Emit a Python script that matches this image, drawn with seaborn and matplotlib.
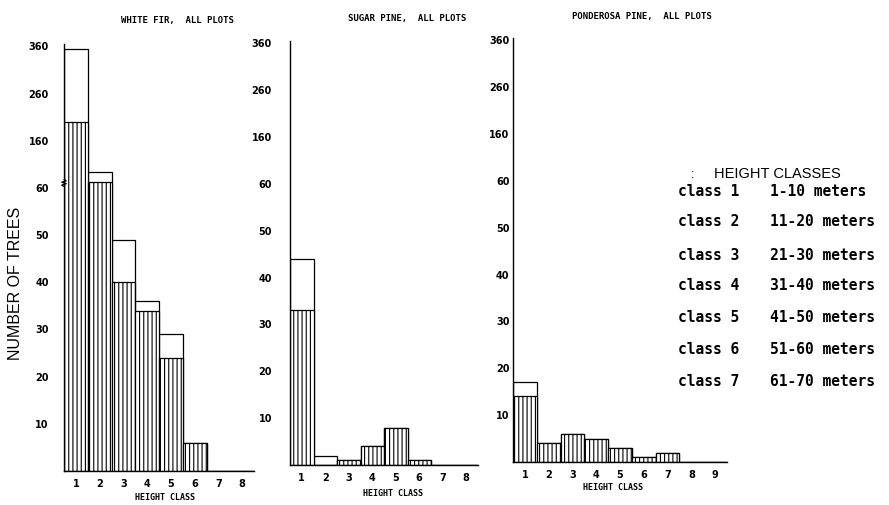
import numpy as np
import pandas as pd
import matplotlib
matplotlib.use("Agg")
import matplotlib.pyplot as plt
import seaborn as sns

# counts per height class: total bar and the hatched (lower) part
fir_classes = [1, 2, 3, 4, 5, 6, 7, 8]
fir_total = [355, 94, 49, 36, 29, 6, 0, 0]
fir_lower = [200, 72, 40, 34, 24, 6, 0, 0]

sugar_classes = [1, 2, 3, 4, 5, 6, 7, 8]
sugar_total = [44, 2, 1, 4, 8, 1, 0, 0]
sugar_lower = [33, 0, 1, 4, 8, 1, 0, 0]

pond_classes = [1, 2, 3, 4, 5, 6, 7, 8, 9]
pond_total = [17, 4, 6, 5, 3, 1, 2, 0, 0]
pond_lower = [14, 4, 6, 5, 3, 1, 2, 0, 0]

y_ticks = [10, 20, 30, 40, 50, 60, 160, 260, 360]

legend_classes = ["class 1", "class 2", "class 3", "class 4", "class 5", "class 6", "class 7"]
legend_ranges = ["1-10 meters", "11-20 meters", "21-30 meters", "31-40 meters",
                 "41-50 meters", "51-60 meters", "61-70 meters"]

sns.set_style("white")
plt.rcParams['font.family'] = ['DejaVu Sans']
plt.rcParams['hatch.linewidth'] = 0.8
plt.rcParams['text.color'] = 'black'
plt.rcParams['xtick.color'] = 'black'
plt.rcParams['ytick.color'] = 'black'

W, H = 889, 505
fig = plt.figure(figsize=(W / 100, H / 100), dpi=100)


def fwd(v):
    v = np.asarray(v, dtype=float)
    return np.where(v <= 60, v / 10.0, 6 + (v - 60) / 100.0)


def inv(u):
    u = np.asarray(u, dtype=float)
    return np.where(u <= 6, u * 10.0, 60 + (u - 6) * 100.0)


def px_rect(left, right, bottom, top):
    return [left / W, (H - bottom) / H, (right - left) / W, (bottom - top) / H]


def panel(rect, classes, total, lower, ypad):
    ax = fig.add_axes(rect)
    df = pd.DataFrame({'cls': [str(c) for c in classes], 'total': total, 'lower': lower})
    order = list(df['cls'])
    sns.barplot(data=df, x='cls', y='total', order=order, width=1, color='white',
                saturation=1, edgecolor='black', linewidth=0.9, ax=ax, errorbar=None)
    sns.barplot(data=df, x='cls', y='lower', order=order, width=1, color='white',
                saturation=1, edgecolor='black', linewidth=0.9, hatch='||||', ax=ax,
                errorbar=None)
    ax.set_yscale('function', functions=(fwd, inv))
    ax.set_ylim(0, 365)
    ax.set_xlim(-0.5, len(classes) - 0.5)
    ax.set_yticks(y_ticks)
    ax.set_yticklabels([str(t) for t in y_ticks])
    ax.yaxis.set_minor_locator(matplotlib.ticker.NullLocator())
    ax.set_xlabel('')
    ax.set_ylabel('')
    for s in ['top', 'right']:
        ax.spines[s].set_visible(False)
    for s in ['left', 'bottom']:
        ax.spines[s].set_linewidth(1.0)
        ax.spines[s].set_color('black')
    ax.tick_params(axis='both', length=0, labelsize=7)
    ax.tick_params(axis='x', pad=5.5)
    ax.tick_params(axis='y', pad=ypad)
    for lab in ax.get_xticklabels() + ax.get_yticklabels():
        lab.set_fontweight('bold')
    ax.patch.set_alpha(0)
    return ax


ax1 = panel(px_rect(64, 254, 471, 44), fir_classes, fir_total, fir_lower, 11)
ax2 = panel(px_rect(290, 478, 465, 41), sugar_classes, sugar_total, sugar_lower, 13)
ax3 = panel(px_rect(513, 727, 462, 38), pond_classes, pond_total, pond_lower, 2.5)

# axis break mark on the first panel
ax1.plot([0.0, -0.012, 0.012, -0.012, 0.012, 0.0], [63, 66, 69, 72, 75, 78],
         color='black', lw=0.9, transform=ax1.get_yaxis_transform(), clip_on=False)


def ftext(x, y, s, **kw):
    fig.text(x / W, 1 - y / H, s, **kw)


mono = 'DejaVu Sans Mono'
ftext(177, 21, "WHITE FIR,  ALL PLOTS", family=mono, fontsize=6.5, fontweight='bold',
      ha='center', va='center')
ftext(407, 19, "SUGAR PINE,  ALL PLOTS", family=mono, fontsize=6.5, fontweight='bold',
      ha='center', va='center')
ftext(642, 16, "PONDEROSA PINE,  ALL PLOTS", family=mono, fontsize=6.5, fontweight='bold',
      ha='center', va='center')

ftext(165, 497, "HEIGHT CLASS", family=mono, fontsize=6, fontweight='bold', ha='center', va='center')
ftext(393, 493, "HEIGHT CLASS", family=mono, fontsize=6, fontweight='bold', ha='center', va='center')
ftext(613, 488, "HEIGHT CLASS", family=mono, fontsize=6, fontweight='bold', ha='center', va='center')

ftext(16, 283, "NUMBER OF TREES", family='Liberation Sans', fontsize=11.5, rotation=90,
      ha='center', va='center')

ftext(693, 175, ":", family='Liberation Sans', fontsize=9, ha='center', va='center')
ftext(777, 174, "HEIGHT CLASSES", family='Liberation Sans', fontsize=10.5, ha='center', va='center')
row_y = [191, 222, 255, 286, 318, 350, 381]
for yy, c, r in zip(row_y, legend_classes, legend_ranges):
    ftext(678, yy, c, family=mono, fontsize=10.5, fontweight='bold', ha='left', va='center')
    ftext(770, yy, r, family=mono, fontsize=10.5, fontweight='bold', ha='left', va='center')

fig.savefig("out.png", dpi=100, facecolor='white')
